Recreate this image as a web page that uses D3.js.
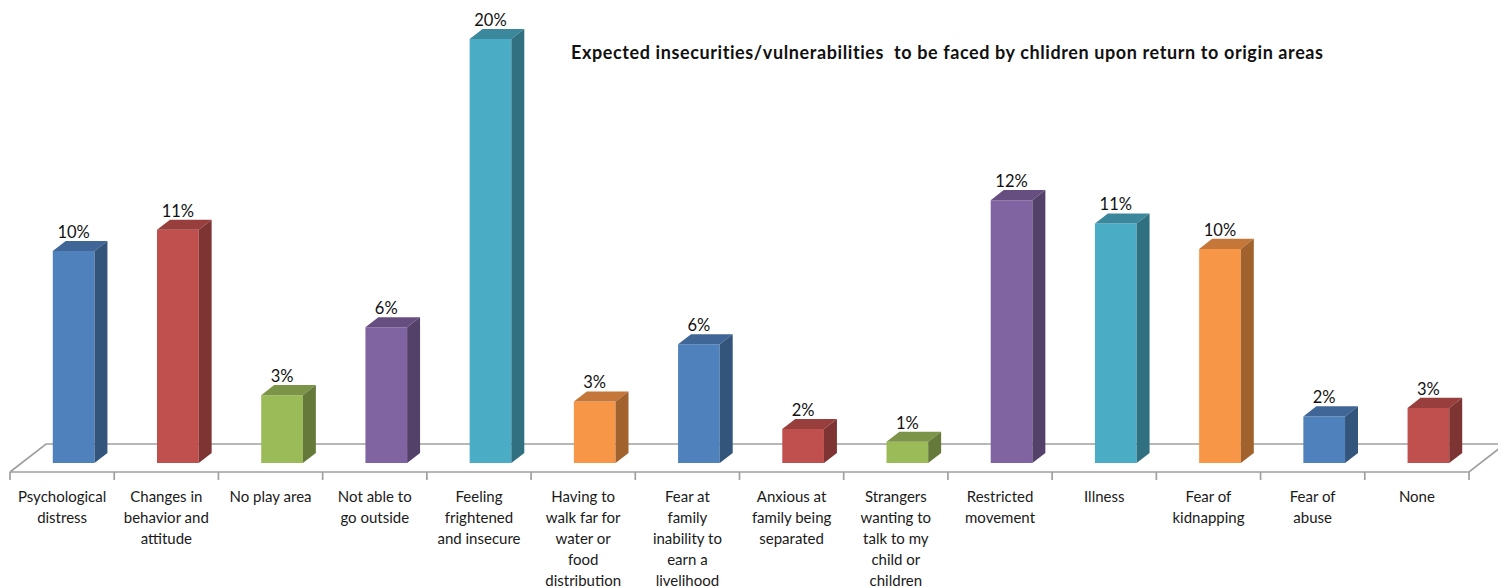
<!DOCTYPE html>
<html>
<head>
<meta charset="utf-8">
<script src="https://cdn.jsdelivr.net/npm/d3@7"></script>
<style>
  body { margin: 0; background: #fff; }
  text { font-family: Lato, "Open Sans", sans-serif; }
</style>
</head>
<body>
<div id="chartArea"></div>
<script>
const svgWidth = 1498;
const svgHeight = 588;

const categories = [
  'Psychological distress', 'Changes in behavior and attitude', 'No play area',
  'Not able to go outside', 'Feeling frightened and insecure',
  'Having to walk far for water or food distribution',
  'Fear at family inability to earn a livelihood', 'Anxious at family being separated',
  'Strangers wanting to talk to my child or children', 'Restricted movement',
  'Illness', 'Fear of kidnapping', 'Fear of abuse', 'None'
];
const values = [10.0, 11.0, 3.2, 6.4, 20.0, 2.9, 5.6, 1.6, 1.0, 12.4, 11.3, 10.1, 2.2, 2.6];
const tickLabels = [
  ['Psychological', 'distress'],
  ['Changes in', 'behavior and', 'attitude'],
  ['No play area'],
  ['Not able to', 'go outside'],
  ['Feeling', 'frightened', 'and insecure'],
  ['Having to', 'walk far for', 'water or', 'food', 'distribution'],
  ['Fear at', 'family', 'inability to', 'earn a', 'livelihood'],
  ['Anxious at', 'family being', 'separated'],
  ['Strangers', 'wanting to', 'talk to my', 'child or', 'children'],
  ['Restricted', 'movement'],
  ['Illness'],
  ['Fear of', 'kidnapping'],
  ['Fear of', 'abuse'],
  ['None']
];
const palette = ['#4f81bd', '#c0504d', '#9bbb59', '#8064a2', '#4bacc6', '#f79646'];
const title = 'Expected insecurities/vulnerabilities  to be faced by chlidren upon return to origin areas';

const canvas = d3.select('#chartArea')
  .append('svg')
  .attr('width', svgWidth)
  .attr('height', svgHeight);

// floor geometry (oblique projection)
const floorFront = 472;
const depthX = 36;
const depthY = -28;
const zFront = 0.32;
const zBack = 0.68;

const x = d3.scaleBand()
  .domain(categories)
  .range([10, 1469])
  .paddingInner(0.6)
  .paddingOuter(0.3);

const h = d3.scaleLinear()
  .domain([0, 20])
  .range([0, 424]);

const color = d3.scaleOrdinal()
  .domain(categories)
  .range(palette);

const proj = (px, z, height) => [px + z * depthX, floorFront + z * depthY - height];

const [x0, x1] = x.range();
const gridColor = '#a0a0a0';

const floor = canvas.append('g')
  .attr('fill', 'none')
  .attr('stroke', gridColor)
  .attr('stroke-width', 1.7);

floor.append('path')
  .attr('d', d3.line()([proj(x0, 0, 0), proj(x0, 1, 0), proj(x1 + 40, 1, 0)]));
floor.append('path')
  .attr('d', d3.line()([proj(x0, 0, 0), proj(x1, 0, 0), proj(x1, 1, 0)]));

// ticks between categories
const step = x.step();
floor.selectAll('line.tick')
  .data(d3.range(categories.length + 1))
  .join('line')
  .attr('class', 'tick')
  .attr('x1', i => x0 + i * step)
  .attr('x2', i => x0 + i * step)
  .attr('y1', floorFront)
  .attr('y2', floorFront + 8);

// bars
const bars = canvas.selectAll('g.bar')
  .data(categories.map((c, i) => ({ c, v: values[i] })))
  .join('g')
  .attr('class', 'bar');

const bw = x.bandwidth();

bars.append('path')
  .attr('fill', d => color(d.c))
  .attr('d', d => {
    const l = x(d.c);
    const hh = h(d.v);
    return d3.line()([proj(l, zFront, 0), proj(l + bw, zFront, 0), proj(l + bw, zFront, hh), proj(l, zFront, hh)]) + 'Z';
  });

bars.append('path')
  .attr('fill', d => d3.color(color(d.c)).darker(0.65))
  .attr('d', d => {
    const l = x(d.c);
    const hh = h(d.v);
    return d3.line()([proj(l, zFront, hh), proj(l + bw, zFront, hh), proj(l + bw, zBack, hh), proj(l, zBack, hh)]) + 'Z';
  });

bars.append('path')
  .attr('fill', d => d3.color(color(d.c)).darker(1.2))
  .attr('d', d => {
    const r = x(d.c) + bw;
    const hh = h(d.v);
    return d3.line()([proj(r, zFront, 0), proj(r, zBack, 0), proj(r, zBack, hh), proj(r, zFront, hh)]) + 'Z';
  });

bars.append('text')
  .attr('x', d => proj(x(d.c) + bw / 2, zFront, 0)[0])
  .attr('y', d => proj(0, zBack, h(d.v))[1] - 3)
  .attr('text-anchor', 'middle')
  .attr('font-size', 16.5)
  .attr('fill', '#111')
  .text(d => Math.round(d.v) + '%');

// category labels
const labels = canvas.selectAll('text.cat')
  .data(categories)
  .join('text')
  .attr('class', 'cat')
  .attr('text-anchor', 'middle')
  .attr('font-size', 15)
  .attr('fill', '#1a1a1a')
  .attr('y', 502);

labels.selectAll('tspan')
  .data((d, i) => tickLabels[i].map(t => ({ t, c: d })))
  .join('tspan')
  .attr('x', d => x(d.c) + bw / 2)
  .attr('dy', (d, j) => j === 0 ? 0 : 21)
  .text(d => d.t);

// title
canvas.append('text')
  .attr('x', 571)
  .attr('y', 59)
  .attr('font-size', 18)
  .attr('font-weight', 'bold')
  .attr('letter-spacing', 0.6)
  .attr('fill', '#111')
  .style('white-space', 'pre')
  .text(title);
</script>
</body>
</html>
